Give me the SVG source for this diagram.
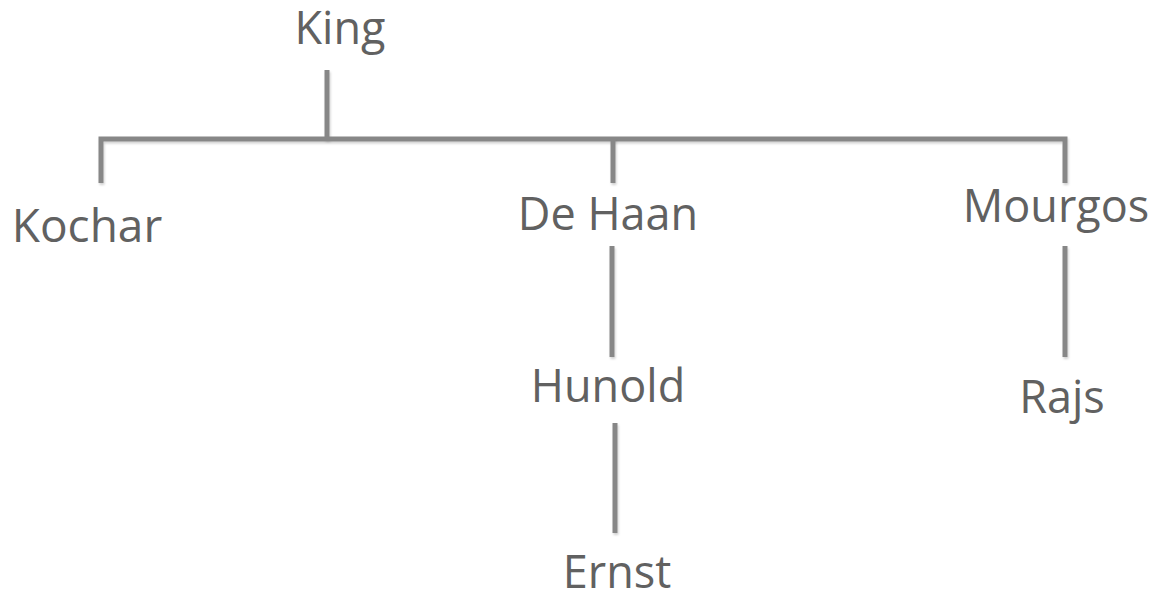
<svg xmlns="http://www.w3.org/2000/svg" width="1157" height="592" viewBox="0 0 1157 592">
<style>
.t{font-family:"Open Sans","Liberation Sans",sans-serif;font-size:45px;fill:#616161;text-anchor:middle}
.c{stroke:#878787;stroke-width:5;fill:none;filter:url(#sh)}
</style>
<defs>
<filter id="sh" filterUnits="userSpaceOnUse" x="0" y="0" width="1157" height="592">
<feDropShadow dx="1" dy="2" stdDeviation="1.2" flood-color="#000" flood-opacity="0.18"/>
</filter>
</defs>
<rect width="1157" height="592" fill="#fff"/>
<g id="connectors">
<path class="c" d="M327 70V140"/>
<path class="c" d="M101 183V139H1065V183"/>
<path class="c" d="M613 139V183"/>
<path class="c" d="M612 246V357"/>
<path class="c" d="M1065 246V357"/>
<path class="c" d="M615 423V533"/>
</g>
<g id="king"><text class="t" x="340" y="44">King</text></g>
<g id="kochar"><text class="t" x="87" y="242" style="font-size:46px">Kochar</text></g>
<g id="dehaan"><text class="t" x="608" y="230">De Haan</text></g>
<g id="mourgos"><text class="t" x="1056" y="222">Mourgos</text></g>
<g id="hunold"><text class="t" x="608" y="402">Hunold</text></g>
<g id="rajs"><text class="t" x="1062" y="413">Rajs</text></g>
<g id="ernst"><text class="t" x="617" y="588">Ernst</text></g>
</svg>
